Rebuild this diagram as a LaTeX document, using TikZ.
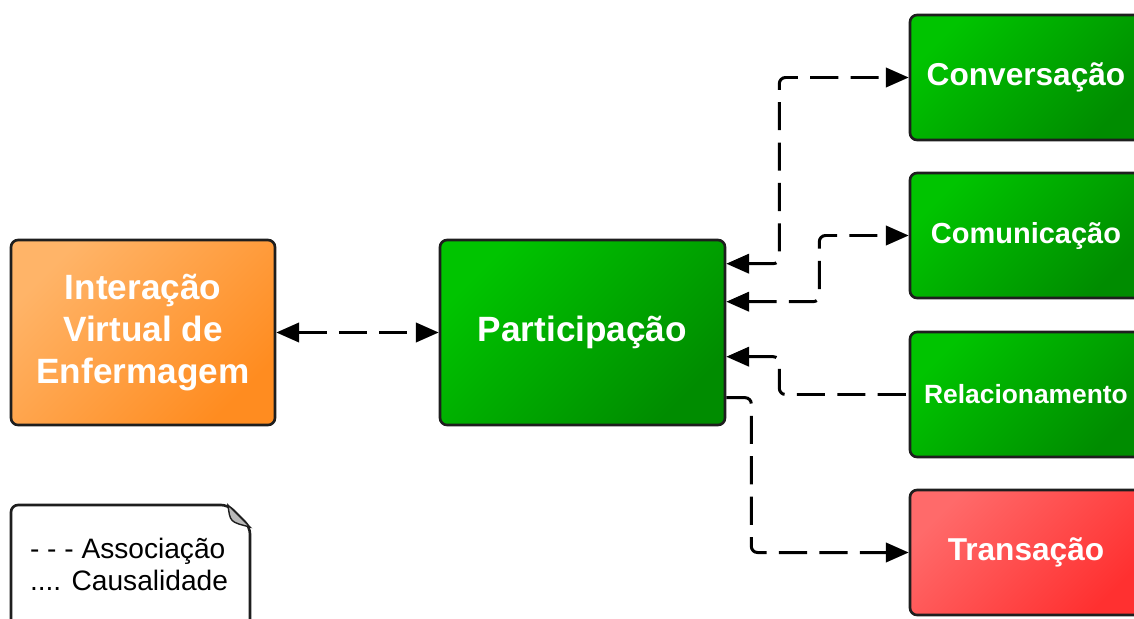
\documentclass[tikz,border=0pt]{standalone}
\usepackage{fontspec}
\setmainfont{Liberation Sans}
\usetikzlibrary{arrows.meta}

\definecolor{verdeA}{HTML}{00C400}
\definecolor{verdeB}{HTML}{008C00}
\definecolor{laranjaA}{HTML}{FFB468}
\definecolor{laranjaB}{HTML}{FF8C20}
\definecolor{vermelhoA}{HTML}{FF6A6A}
\definecolor{vermelhoB}{HTML}{FF3030}
\definecolor{borda}{HTML}{1E1E1E}

\begin{document}
\begin{tikzpicture}[
    caixa/.style={draw=borda, line width=1.5pt, rounded corners=4pt, text=white, align=center, inner sep=0pt},
    verde/.style={caixa, top color=verdeA, bottom color=verdeB, shading angle=45},
    laranja/.style={caixa, top color=laranjaA, bottom color=laranjaB, shading angle=45},
    vermelho/.style={caixa, top color=vermelhoA, bottom color=vermelhoB, shading angle=45},
    lado/.style={minimum width=4.64cm, minimum height=2.5cm},
    assoc/.style={line width=1.7pt, dash pattern=on 16pt off 7pt, rounded corners=3.5pt},
    ponta/.tip={Triangle[length=13pt, width=11pt]}
]
    \useasboundingbox (0,0) rectangle (22.68,-12.38);

    % Main concepts
    \node[laranja, minimum width=5.28cm, minimum height=3.7cm,
          font=\fontsize{20}{24}\selectfont\bfseries] (interacao) at (2.86,-6.65)
          {Interação\\Virtual de\\Enfermagem};
    \node[verde, minimum width=5.7cm, minimum height=3.7cm,
          font=\fontsize{20}{24}\selectfont\bfseries] (part) at (11.65,-6.65) {Participação};

    % Dimensions on the right
    \node[verde, lado, font=\fontsize{18}{22}\selectfont\bfseries] (conv) at (20.52,-1.55) {Conversação};
    \node[verde, lado, font=\fontsize{16.5}{20}\selectfont\bfseries] (comu) at (20.52,-4.71) {Comunicação};
    \node[verde, lado, font=\fontsize{15}{18}\selectfont\bfseries] (rela) at (20.52,-7.89) {Relacionamento};
    \node[vermelho, lado, font=\fontsize{18}{22}\selectfont\bfseries] (tran) at (20.52,-11.05) {Transação};

    % Associations
    \draw[assoc, ponta-ponta] (interacao) -- (part);
    \draw[assoc, ponta-ponta] ([yshift=-0.5cm]part.north east) -- ++(1.06,0) |- (conv.west);
    \draw[assoc, ponta-ponta] ([yshift=-1.26cm]part.north east) -- ++(1.86,0) |- (comu.west);
    \draw[assoc, ponta-] ([yshift=-2.36cm]part.north east) -- ++(1.06,0) |- (rela.west);
    \draw[assoc, -ponta] ([yshift=-3.18cm]part.north east) -- ++(0.5,0) |- (tran.west);

    % Legend note
    \draw[line width=1.5pt, draw=borda, fill=white, rounded corners=4pt]
        (0.22,-12.7) -- (0.22,-10.1) -- (4.56,-10.1) -- (5.0,-10.54) -- (5.0,-12.7);
    \fill[gray!55, draw=borda, line width=0.8pt] (4.56,-10.1) .. controls (4.6,-10.44) .. (5.0,-10.54) -- cycle;
    \node[font=\fontsize{16}{18.2}\selectfont, align=left] (legenda) at (2.58,-11.28)
        {- - - Associação\\.... Causalidade};
\end{tikzpicture}
\end{document}
